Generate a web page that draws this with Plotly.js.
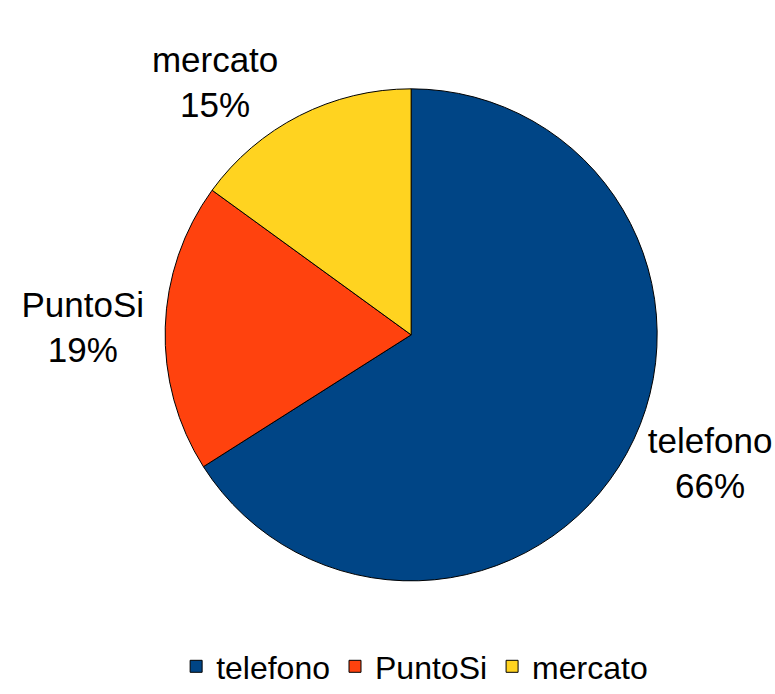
<!DOCTYPE html>
<html>
<head>
<meta charset="utf-8">
<script src="https://cdn.plot.ly/plotly-3.0.1.min.js"></script>
<style>html,body{margin:0;padding:0;background:#fff;}#chart{width:775px;height:694px;}</style>
</head>
<body>
<div id="chart"></div>
<script>
const categories = ["telefono", "PuntoSi", "mercato"];
const values = [66, 19, 15];
const colors = ["#004586", "#ff420e", "#ffd320"];

const trace = {
  type: "pie",
  labels: categories,
  values: values,
  sort: false,
  direction: "clockwise",
  rotation: 0,
  marker: {colors: colors, line: {color: "#000000", width: 1}},
  textinfo: "label+percent",
  texttemplate: "%{label}<br>%{percent:.0%}",
  textposition: "outside",
  outsidetextfont: {family: "Liberation Sans, Arial, sans-serif", size: 35, color: "#000"},
  domain: {x: [0.213, 0.848], y: [0.163, 0.872]},
  hoverinfo: "none"
};

const layout = {
  width: 775, height: 694,
  margin: {l: 0, r: 0, t: 0, b: 0},
  paper_bgcolor: "#ffffff",
  showlegend: true,
  legend: {
    orientation: "h",
    x: 0.535, xanchor: "center",
    y: 0.0, yanchor: "bottom",
    font: {family: "Liberation Sans, Arial, sans-serif", size: 32, color: "#000"},
    itemwidth: 30,
    tracegroupgap: 0
  }
};

Plotly.newPlot("chart", [trace], layout, {displayModeBar: false, staticPlot: true});
</script>
</body>
</html>
